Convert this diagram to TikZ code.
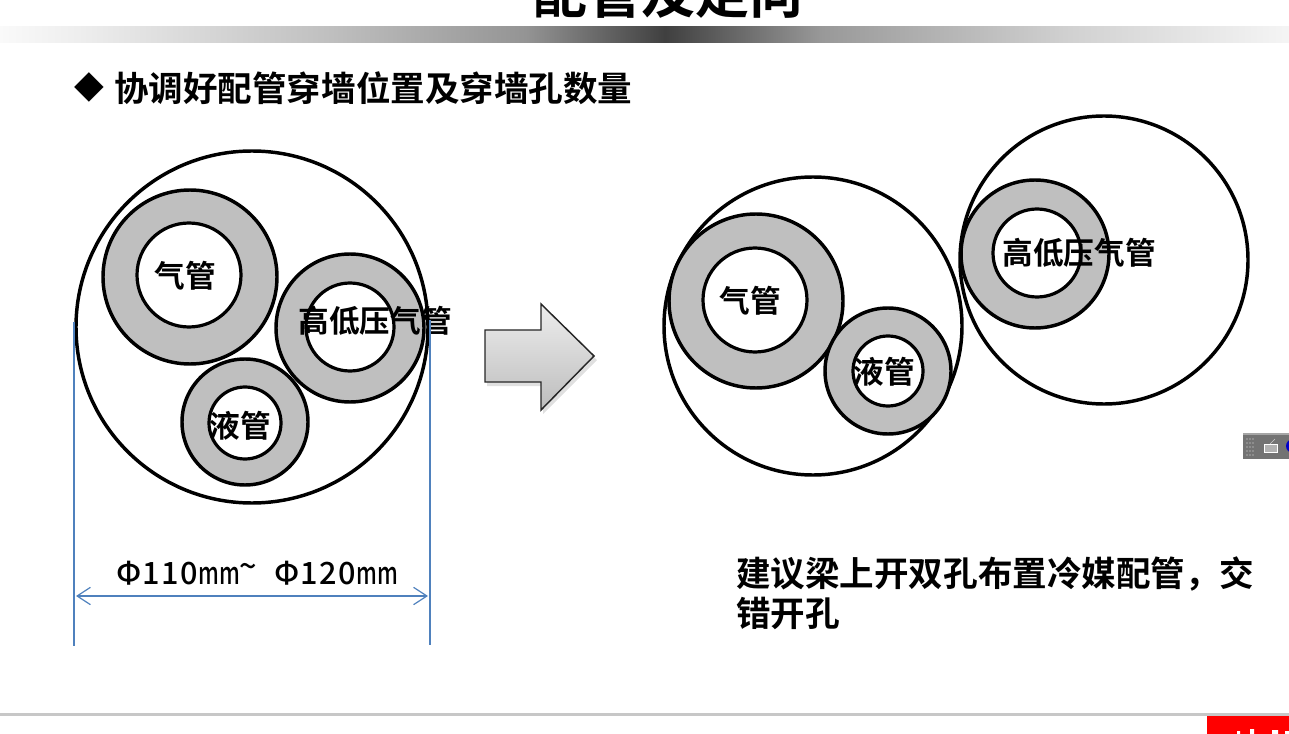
\documentclass[tikz,border=0pt]{standalone}
\usepackage{fontspec}
\setmainfont{Noto Sans CJK SC Bold}
\newfontfamily\dimfont{Noto Sans CJK SC Medium}
\newfontfamily\symfont{DejaVu Sans}
\usetikzlibrary{arrows.meta}
\definecolor{ringgray}{RGB}{191,191,191}
\definecolor{dimblue}{RGB}{79,129,189}
\pgfdeclarehorizontalshading{topbar}{100bp}{
  color(0bp)=(white);
  color(25bp)=(black!2);
  color(28.2bp)=(black!7);
  color(37.8bp)=(black!25);
  color(45.4bp)=(black!42);
  color(50.8bp)=(black!75);
  color(56.9bp)=(black!40);
  color(66.5bp)=(black!18);
  color(75bp)=(black!4);
  color(100bp)=(white)}
\tikzset{
  x=0.75pt,y=-0.75pt,
  outer/.style={circle,draw=black,line width=2.6pt,fill=none,inner sep=0pt,minimum size=#1*1.5pt},
  ring/.style={circle,draw=black,line width=2.6pt,fill=ringgray,inner sep=0pt,minimum size=#1*1.5pt},
  hole/.style={circle,draw=black,line width=2.4pt,fill=white,inner sep=0pt,minimum size=#1*1.5pt},
  pipelabel/.style={font=\fontsize{23pt}{26pt}\selectfont,inner sep=0pt,text=black},
  bodytext/.style={font=\fontsize{25.9pt}{30.7pt}\selectfont,inner sep=0pt,text=black,anchor=west,align=left},
  dimline/.style={draw=dimblue,line width=0.9pt},
  dimpart/.style={inner sep=0pt,font=\dimfont\fontsize{23pt}{26pt}\selectfont},
}
\newcommand{\narrowmm}{\scalebox{0.72}[1]{mm}}
\newcommand{\gp}{\kern1.1pt}
\begin{document}
\begin{tikzpicture}
\useasboundingbox (0,0) rectangle (1289,734);
\clip (0,0) rectangle (1289,734);
% title and bar
\node[inner sep=0pt,font=\fontsize{40.5pt}{44pt}\selectfont] (title) at (668,-7) {配管及走向};
\path[shading=topbar] (0,27) rectangle (1289,43);
% heading
\node[inner sep=0pt,font=\symfont\fontsize{29pt}{30pt}\selectfont] (bullet) at (89,87) {◆};
\node[bodytext] (heading) at (114,88) {协调好配管穿墙位置及穿墙孔数量};
% left group
\node[outer=176] (bigL) at (252,327) {};
\node[ring=87] (gasR) at (190,277) {};
\node[hole=52] (gasH) at (189,275) {};
\node[ring=74] (hlR) at (350,328) {};
\node[hole=44] (hlH) at (350,327) {};
\node[ring=63] (liqR) at (245,422) {};
\node[hole=36] (liqH) at (245,423) {};
\node[pipelabel] (gasT) at (185,276) {气管};
\node[pipelabel] (hlT) at (375,321) {高低压气管};
\node[pipelabel] (liqT) at (240,426) {液管};
% dimension
\coordinate (d1a) at (74,322); \coordinate (d1b) at (74,646);
\coordinate (d2a) at (430,320); \coordinate (d2b) at (430,645);
\coordinate (d3a) at (76,596); \coordinate (d3b) at (428,596);
\draw[dimline] (d1a) -- (d1b);
\draw[dimline] (d2a) -- (d2b);
\draw[dimline,{Straight Barb[length=10pt,width=13pt,line width=0.9pt]}-{Straight Barb[length=10pt,width=13pt,line width=0.9pt]}] (d3a) -- (d3b);
\node[dimpart] (dimT) at (257,573) {Φ\gp 1\gp 1\gp 0\narrowmm\raisebox{5pt}{\~{}}\hspace{0.55em}Φ\gp 1\gp 2\gp 0\narrowmm};
% arrow
\fill[black,opacity=.12] (487,334) -- (543,334) -- (543,308) -- (597,360) -- (543,414) -- (543,386) -- (487,386) -- cycle;
\draw[draw=black!85,line width=1.1pt,top color=black!7,bottom color=black!26] (485,330) -- (541,330) -- (541,304) -- (594,356) -- (541,410) -- (541,382) -- (485,382) -- cycle;
% right group
\node[outer=149] (bigA) at (813,326) {};
\node[outer=144] (bigB) at (1104,260) {};
\node[ring=87] (gasR2) at (756,301) {};
\node[hole=52] (gasH2) at (755,300) {};
\node[ring=63] (liqR2) at (888,371) {};
\node[hole=35] (liqH2) at (888,371) {};
\node[ring=74] (hlR2) at (1035,254) {};
\node[hole=44] (hlH2) at (1037,253) {};
\node[pipelabel] (gasT2) at (750,301) {气管};
\node[pipelabel] (liqT2) at (884,372) {液管};
\node[pipelabel] (hlT2) at (1079,253) {高低压气管};
% note
\node[bodytext,text width=535*0.75pt,anchor=north west] (note) at (736,556) {建议梁上开双孔布置冷媒配管，交\\错开孔};
% bottom rule and red box
\fill[black!22] (0,713) rectangle (1289,716);
\fill[red] (1207,716) rectangle (1289,734);
\fill[white] (1237,731) rectangle (1240,734) (1250,729) rectangle (1254,734) (1272,730) rectangle (1278,734) (1285,731) rectangle (1289,734);
% toolbar fragment
\fill[black!55] (1243,433) rectangle (1289,459);
\fill[black!35] (1243,433) rectangle (1289,435);
\foreach \yy in {439,443,447,451,455} \foreach \xx in {1247,1250,1253} \fill[black!10] (\xx,\yy) circle (0.7);
\draw[white,fill=black!30,line width=0.5pt] (1264,444) rectangle (1277,452);
\draw[black!20,line width=0.5pt] (1270,444) -- (1275,439);
\fill[blue!80!black] (1293,446) circle (7);
\end{tikzpicture}
\end{document}
